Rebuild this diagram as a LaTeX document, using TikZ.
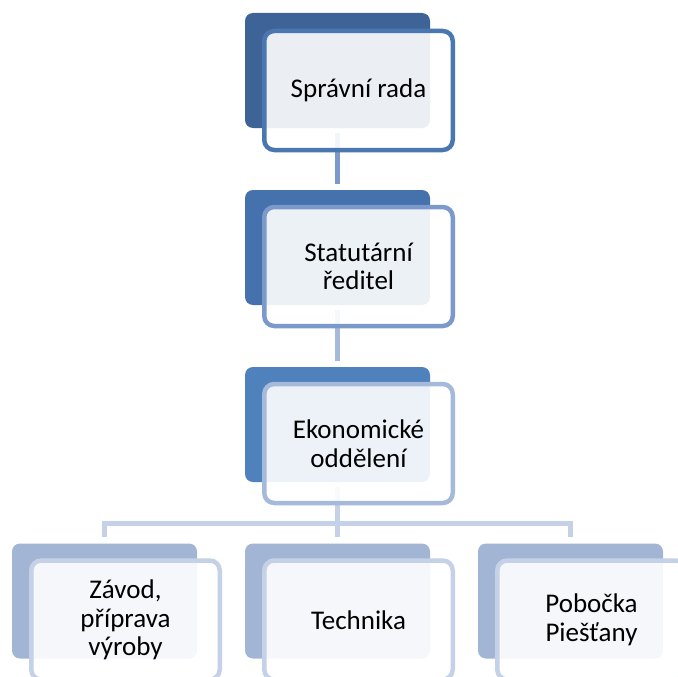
\documentclass[tikz,border=0pt]{standalone}
\usepackage{fontspec}
\setmainfont{Carlito}
\usetikzlibrary{backgrounds}
\definecolor{backA}{HTML}{3D6397}
\definecolor{backB}{HTML}{4572AD}
\definecolor{backC}{HTML}{4F81BD}
\definecolor{backD}{HTML}{A3B5D5}
\definecolor{lineA}{HTML}{4A77B0}
\definecolor{lineB}{HTML}{7B9ACB}
\definecolor{lineC}{HTML}{A5B9DA}
\definecolor{lineD}{HTML}{C5D1E6}
\tikzset{
  backbox/.style={draw=none,fill=#1,rounded corners=8pt,minimum width=185pt,minimum height=115pt,inner sep=0pt},
  frontbox/.style={draw=#1,line width=4.5pt,fill=white,fill opacity=0.9,text opacity=1,rounded corners=10pt,
    minimum width=188.5pt,minimum height=119pt,inner sep=0pt,align=center,font=\fontsize{27}{28.7}\selectfont},
  link/.style={draw=#1,line width=5pt,shorten <=5pt,shorten >=6pt}
}
\begin{document}
\begin{tikzpicture}[x=1pt,y=-1pt]
\useasboundingbox (0,0) rectangle (678,677);
\clip (0,0) rectangle (678,677);
% Back boxes
\node[backbox=backA] (rada-back) at (337.5,70.5) {};
\node[backbox=backB] (reditel-back) at (337.5,247.5) {};
\node[backbox=backC] (ekon-back) at (337.5,424.5) {};
\node[backbox=backD] (zavod-back) at (104.5,601) {};
\node[backbox=backD] (technika-back) at (337.5,601) {};
\node[backbox=backD] (pobocka-back) at (570.5,601) {};
% Front boxes with text
\node[frontbox=lineA] (rada) at ([shift={(21,20)}]rada-back) {Správní rada};
\node[frontbox=lineB] (reditel) at ([shift={(21,19)}]reditel-back) {Statutární\\ředitel};
\node[frontbox=lineC] (ekon) at ([shift={(21,19)}]ekon-back) {Ekonomické\\oddělení};
\node[frontbox=lineD] (zavod) at ([shift={(21,19)}]zavod-back) {Závod,\\příprava\\výroby};
\node[frontbox=lineD] (technika) at ([shift={(21,19)}]technika-back) {Technika};
\node[frontbox=lineD] (pobocka) at ([shift={(21,19)}]pobocka-back) {Pobočka\\Piešťany};
% Connectors behind the boxes
\begin{scope}[on background layer]
\draw[link=lineB] (rada-back.south) -- (reditel-back.north);
\draw[link=lineC] (reditel-back.south) -- (ekon-back.north);
\draw[link=lineD] (ekon-back.south) -- ++(0,41) -| (zavod-back.north);
\draw[link=lineD] (ekon-back.south) -- (technika-back.north);
\draw[link=lineD] (ekon-back.south) -- ++(0,41) -| (pobocka-back.north);
\end{scope}
\end{tikzpicture}
\end{document}
